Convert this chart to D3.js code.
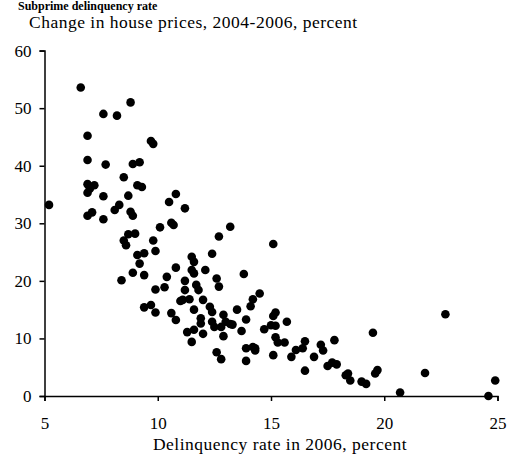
<!DOCTYPE html>
<html>
<head>
<meta charset="utf-8">
<script src="https://cdn.jsdelivr.net/npm/d3@7/dist/d3.min.js"></script>
<style>
  body { margin: 0; background: #fff; }
  text { font-family: "Liberation Serif", "DejaVu Serif", serif; fill: #000; }
  .axis path, .axis line { stroke: #000; stroke-width: 1.5; }
  .axis text { font-size: 17px; font-family: "Liberation Serif", serif; }
</style>
</head>
<body>
<div id="vis"></div>
<script>
// delinquency rate 2006 (%) and house price change 2004-2006 (%)
var delinquency = [
  6.6, 8.8, 7.6, 8.2, 6.9, 9.7, 9.8, 6.9, 7.7, 8.9, 9.2, 8.5, 6.9, 7.2, 6.9, 7.0,
  7.6, 8.7, 9.1, 9.3, 5.2, 10.8, 10.5, 11.2, 6.9, 7.1, 7.6, 8.1, 8.3, 8.8, 8.9,
  10.1, 10.6, 10.7, 8.5, 8.6, 8.7, 9.0, 9.8, 9.9, 9.1, 9.4, 9.2, 8.9, 9.4, 8.4,
  10.8, 10.4, 9.9, 10.3, 11.2, 11.5, 11.6, 11.5, 11.6, 12.1, 12.4, 12.7, 13.2,
  11.2, 11.7, 11.8, 12.6, 12.7, 11.0, 11.1, 11.4, 12.0, 11.6, 9.4, 9.7, 9.9,
  10.6, 10.8, 12.3, 12.4, 13.5, 11.9, 11.9, 12.4, 12.5, 12.8, 12.9, 13.0, 13.2,
  13.3, 13.7, 11.3, 11.6, 12.0, 11.5, 12.9, 12.6, 12.8, 15.1, 13.8, 14.5, 14.2,
  14.1, 15.2, 15.1, 15.7, 13.9, 14.7, 15.0, 15.2, 15.2, 15.3, 15.6, 13.9, 14.2,
  14.3, 14.3, 13.9, 15.1, 15.9, 16.1, 16.4, 16.5, 16.9, 16.5, 17.2, 17.3, 17.8,
  17.5, 17.7, 17.9, 18.3, 18.4, 18.5, 19.0, 19.2, 19.5, 22.7, 19.6, 19.7, 20.7,
  21.8, 24.6, 24.9
];
var priceChange = [
  53.6, 51.0, 49.0, 48.7, 45.2, 44.3, 43.8, 41.0, 40.2, 40.3, 40.6, 38.0, 36.8, 36.6, 35.3, 36.0,
  34.7, 34.8, 36.6, 36.3, 33.2, 35.1, 33.7, 32.6, 31.3, 31.9, 30.7, 32.3, 33.2, 32.0, 31.3,
  29.3, 30.1, 29.7, 27.0, 26.2, 28.1, 28.2, 27.0, 25.2, 24.5, 24.8, 23.0, 21.4, 21.0, 20.1,
  22.3, 20.7, 18.5, 18.9, 20.0, 24.2, 23.3, 21.9, 21.3, 21.9, 24.7, 27.7, 29.4,
  18.4, 19.3, 18.4, 20.4, 19.0, 16.5, 16.7, 16.8, 16.7, 15.0, 15.4, 15.8, 14.5,
  14.4, 13.2, 15.5, 14.6, 15.0, 13.5, 12.6, 12.9, 12.0, 12.0, 14.1, 12.9, 12.5,
  12.4, 11.3, 11.1, 11.5, 10.8, 9.4, 10.4, 7.6, 6.4, 26.4, 21.2, 17.8, 16.8,
  15.6, 14.5, 13.9, 12.9, 13.3, 11.6, 12.3, 12.2, 10.2, 9.3, 9.3, 8.3, 8.5,
  8.3, 7.9, 6.1, 7.1, 6.8, 8.0, 8.3, 9.5, 6.8, 4.4, 8.9, 7.9, 9.7,
  5.2, 5.8, 5.5, 3.6, 3.9, 2.7, 2.5, 2.1, 11.0, 14.2, 3.9, 4.5, 0.6,
  4.0, 0.0, 2.7
];
var xTicks = [5, 10, 15, 20, 25];
var yTicks = [0, 10, 20, 30, 40, 50, 60];

var data = delinquency.map(function (d, i) {
    return { x: d, y: priceChange[i] };
});

var svg = d3.select('#vis')
    .append('svg')
    .attr('width', 510)
    .attr('height', 455);

var xScale = d3.scaleLinear()
    .domain([5, 25])
    .range([44.5, 497.5]);

var yScale = d3.scaleLinear()
    .domain([0, 60])
    .range([396, 50.6]);

// heading (cut off at the top in the source), kept small so it stays readable
svg.append('text')
    .attr('x', 18)
    .attr('y', 10)
    .style('font-size', '12px')
    .style('font-weight', 'bold')
    .text('Subprime delinquency rate');

svg.append('text')
    .attr('x', 29)
    .attr('y', 27.5)
    .style('font-size', '17.5px')
    .style('letter-spacing', '0.5px')
    .text('Change in house prices, 2004-2006, percent');

/* ****** Axes ****** */
var xAxis = d3.axisBottom(xScale)
    .tickValues(xTicks)
    .tickSize(5)
    .tickPadding(16);

var yAxis = d3.axisLeft(yScale)
    .tickValues(yTicks)
    .tickSize(5)
    .tickPadding(8);

svg.append('g')
    .attr('class', 'axis')
    .attr('transform', 'translate(0,' + yScale(0) + ')')
    .call(xAxis);

svg.append('g')
    .attr('class', 'axis')
    .attr('transform', 'translate(' + xScale(5) + ',0)')
    .call(yAxis);

svg.append('text')
    .attr('x', 280)
    .attr('y', 450)
    .attr('text-anchor', 'middle')
    .style('font-size', '17.5px')
    .style('letter-spacing', '0.5px')
    .text('Delinquency rate in 2006, percent');

/* ****** Points ****** */
svg.append('g')
    .selectAll('circle')
    .data(data)
    .enter()
    .append('circle')
    .attr('cx', function (d) { return xScale(d.x); })
    .attr('cy', function (d) { return yScale(d.y); })
    .attr('r', 4.3)
    .attr('fill', '#000');
</script>
</body>
</html>
